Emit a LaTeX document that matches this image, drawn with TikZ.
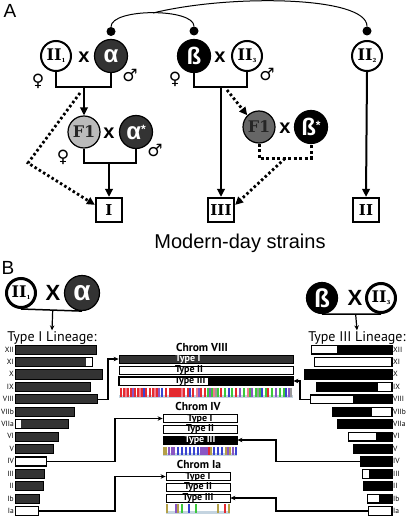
\documentclass[tikz,border=0pt]{standalone}
\usepackage{fontspec}
\setsansfont{Liberation Sans}
\newfontfamily\ptsans{PT Sans}
\newfontfamily\symfont{DejaVu Sans}
\newfontfamily\slab{DejaVu Serif}
\usetikzlibrary{arrows.meta,positioning}
\definecolor{darkfill}{HTML}{333333}
\definecolor{fonelight}{HTML}{BBBBBB}
\definecolor{fonedark}{HTML}{666666}
\definecolor{stripred}{HTML}{E42A30}
\definecolor{strippink}{HTML}{F07C8C}
\definecolor{stripblue}{HTML}{3A44D0}
\definecolor{strippurple}{HTML}{8A56C4}
\definecolor{stripgreen}{HTML}{3CC83C}
\definecolor{stripolive}{HTML}{B4A048}
\definecolor{stripgray}{HTML}{9A9A9A}
\definecolor{stripbase}{HTML}{C4D4E0}

\begin{document}
\begin{tikzpicture}[x=1pt, y=-1pt,
    wcirc/.style={circle, draw, line width=2pt, fill=white, minimum size=30pt, inner sep=0pt, font=\fontsize{16}{16}\selectfont\slab\bfseries},
    dcirc/.style={circle, draw, line width=1.2pt, fill=#1, minimum size=33pt, inner sep=0pt, text=white, font=\fontsize{24}{24}\selectfont\sffamily\bfseries},
    fcirc/.style={circle, draw, line width=1.2pt, fill=#1, minimum size=32pt, inner sep=0pt, text=black!85, font=\fontsize{16}{16}\selectfont\slab\bfseries},
    xmark/.style={inner sep=0pt, font=\fontsize{20}{20}\selectfont\sffamily\bfseries},
    sexsym/.style={inner sep=0pt, font=\fontsize{17}{17}\selectfont\symfont},
    strainbox/.style={draw, line width=2.2pt, fill=white, minimum width=26pt, minimum height=24pt, inner sep=0pt, font=\fontsize{15}{15}\selectfont\slab\bfseries},
    knob/.style={circle, fill, inner sep=0pt, minimum size=9pt},
    panel/.style={inner sep=0pt, font=\fontsize{19}{19}\selectfont\sffamily},
    cline/.style={line width=2pt},
    carrow/.style={line width=2pt, -{Triangle[length=8pt, width=7.5pt]}},
    dline/.style={line width=3pt, dash pattern=on 3pt off 2.5pt},
    darrow/.style={line width=2.8pt, dash pattern=on 2.5pt off 2.5pt, -{Triangle[length=8pt, width=7.5pt]}},
    bwcirc/.style={wcirc, line width=3pt, minimum size=29pt},
    lineage/.style={inner sep=1pt, font=\fontsize{14}{14}\selectfont\ptsans},
    chrbar/.style={draw, line width=0.6pt, fill=white, minimum height=8.5pt, inner sep=0pt},
    rowlab/.style={inner sep=1pt, font=\fontsize{7.5}{7.5}\selectfont\ptsans},
    typebar/.style={draw, line width=0.8pt, fill=white, minimum height=8pt, inner sep=0pt},
    typelab/.style={inner sep=0pt, font=\fontsize{10}{10}\selectfont\ptsans\bfseries},
    chrtitle/.style={inner sep=0pt, font=\fontsize{11.5}{11.5}\selectfont\ptsans\bfseries},
    barrow/.style={line width=1.2pt, -{Stealth[length=5pt, width=4.5pt]}},
    stripe/.style={line width=1.2pt}
]

\path[use as bounding box, fill=white] (0,0) rectangle (410,516);

% Panel A
\node[panel] (lblA) at (10,11) {A};

% Ancestral crosses
\node[wcirc] (ii1) at (56,56) {II\raisebox{-2pt}{\fontsize{5.5}{6}\selectfont 1}};
\node[xmark] (xa1) at (84,57) {x};
\node[dcirc=darkfill] (alpha) at (111,56) {α};
\node[dcirc=black] (beta) at (194,56) {ß};
\node[xmark] (xb1) at (220,57) {x};
\node[wcirc] (ii3) at (247,56) {II\raisebox{-2pt}{\fontsize{5.5}{6}\selectfont 3}};
\node[wcirc] (ii2) at (367,56) {II\raisebox{-2pt}{\fontsize{5.5}{6}\selectfont 2}};

% Knobs and ancestry arcs
\node[knob] (ka) at (111,31.5) {};
\node[knob] (kb) at (194,31) {};
\node[knob] (kc) at (367,31) {};
\draw[line width=1pt] (ka.north) .. controls (111,8) and (194,8) .. (kb.north);
\coordinate (jtop) at (153,13);
\draw[line width=1pt] (jtop) .. controls (230,-6) and (367,-4) .. (kc.north);

% Sexes
\node[sexsym] (fem1) at (38,81) {♀};
\node[sexsym] (mal1) at (130,75) {♂};
\node[sexsym] (fem2) at (175,79) {♀};
\node[sexsym] (mal2) at (267,74) {♂};
\node[sexsym] (fem3) at (63,157) {♀};
\node[sexsym] (mal3) at (155,150) {♂};

% Second generation
\node[fcirc=fonelight] (f1a) at (84,132) {F1};
\node[xmark] (xa2) at (109,133) {x};
\node[dcirc=darkfill] (alphas) at (136,132) {α\raisebox{6pt}{\fontsize{12}{12}\selectfont*}};
\node[fcirc=fonedark] (f1b) at (259,127) {F1};
\node[xmark] (xb2) at (285,128) {x};
\node[dcirc=black] (betas) at (311,127) {ß\raisebox{6pt}{\fontsize{12}{12}\selectfont*}};

% Modern-day strains
\node[strainbox] (sI) at (109,210) {I};
\node[strainbox] (sIII) at (221,210) {III};
\node[strainbox] (sII) at (366,210) {II};
\node[font=\fontsize{20}{20}\selectfont\sffamily] (modern) at (240,243) {Modern-day strains};

% Descent
\coordinate (ja1) at (84,87);
\draw[cline] (ii1.south) |- (ja1) -| (alpha.south);
\draw[carrow] (ja1) -- (f1a.north);
\coordinate (ja2) at (109,163);
\draw[cline] (f1a.south) |- (ja2) -| (alphas.south);
\draw[carrow] (ja2) -- (sI.north);
\coordinate (da1) at (80,93);
\coordinate (da2) at (28,163);
\draw[darrow] (da1) -- (da2) -- (sI.160);

\coordinate (jb1) at (221,87);
\draw[cline] (beta.south) |- (jb1) -| (ii3.south);
\draw[carrow] (jb1) -- (sIII.north);
\coordinate (db1) at (227,90);
\draw[darrow] (db1) -- (f1b.135);
\coordinate (jb2) at (285,158.5);
\draw[dline] (f1b.south) |- (jb2) -| (betas.south);
\draw[darrow] (jb2) -- (sIII.20);

\draw[carrow] (ii2.south) -- (sII.north);

% Panel B
\node[panel] (lblB) at (8,268) {B};

\node[bwcirc] (bii1) at (21,293) {II\raisebox{-2pt}{\fontsize{5.5}{6}\selectfont 1}};
\node[xmark, font=\fontsize{22}{22}\selectfont\sffamily\bfseries] (bx1) at (53,293) {X};
\node[dcirc=darkfill, minimum size=35pt, font=\fontsize{28}{28}\selectfont\sffamily\bfseries] (balpha) at (82,293) {α};
\draw[line width=1.5pt] (bii1.south) -- (balpha.south) coordinate[pos=0.52] (jl);
\node[lineage] (linI) at (52,338) {Type I Lineage:};
\draw[barrow] (jl) -- (linI.north);

\node[dcirc=black, minimum size=31pt, font=\fontsize{26}{26}\selectfont\sffamily\bfseries] (bbeta) at (322,298) {ß};
\node[xmark, font=\fontsize{22}{22}\selectfont\sffamily\bfseries] (bx2) at (355,298) {X};
\node[bwcirc] (bii3) at (381,298) {II\raisebox{-2pt}{\fontsize{5.5}{6}\selectfont 3}};
\draw[line width=1.5pt] (bbeta.south) -- (bii3.south) coordinate[pos=0.57] (jr);
\node[lineage] (linIII) at (357,338) {Type III Lineage:};
\draw[barrow] (jr) -- (linIII.north);

% Type I lineage chromosomes
\foreach \n/\y/\xe/\da/\db in {XII/349.5/96/15/96, XI/361.9/92/15/86, X/374.3/102/15/102, IX/386.8/90/15/90, VIII/399.2/97/15/97, VIIb/411.6/74/15/74, VIIa/424.0/68/21/68, VI/436.4/58/15/58, V/448.9/53/15/53, IV/461.3/46/15/15, III/473.7/44/15/44, II/486.1/43/15/43, Ib/498.5/39/15/39, Ia/511.0/38/15/15}{
  \pgfmathsetmacro{\w}{\xe-15}
  \node[chrbar, anchor=west, minimum width=\w pt] (L\n) at (15,\y) {};
  \fill[darkfill] (\da,\y-4.25) rectangle (\db,\y+4.25);
  \draw[line width=0.6pt] (L\n.south west) rectangle (L\n.north east);
  \node[rowlab, anchor=east] (lb\n) at (L\n.west) {\n};
}

% Type III lineage chromosomes
\foreach \n/\y/\xs/\da/\db in {XII/349.5/312/337/392, XI/361.9/315/392/392, X/374.3/305/305/392, IX/386.8/317/317/378, VIII/399.2/311/353/392, VIIb/411.6/333/333/372, VIIa/424.0/338/338/392, VI/436.4/349/376/392, V/448.9/354/354/392, IV/461.3/361/361/392, III/473.7/363/369/392, II/486.1/364/364/392, Ib/498.5/368/379/392, Ia/511.0/369/392/392}{
  \pgfmathsetmacro{\w}{392-\xs}
  \node[chrbar, anchor=east, minimum width=\w pt] (R\n) at (392,\y) {};
  \fill[black] (\da,\y-4.25) rectangle (\db,\y+4.25);
  \draw[line width=0.6pt] (R\n.south west) rectangle (R\n.north east);
  \node[rowlab, anchor=west] (rb\n) at (R\n.east) {\n};
}

% Chrom VIII
\node[chrtitle] (c8) at (202,347) {Chrom VIII};
\node[typebar, fill=darkfill, minimum width=174pt] (c8a) at (206,359) {};
\node[typebar, minimum width=174pt] (c8b) at (206,370) {};
\node[typebar, minimum width=174pt] (c8c) at (206,381) {};
\fill[black] (208,377) rectangle (293,385);
\draw[line width=0.8pt] (c8c.south west) rectangle (c8c.north east);
\node[typelab, text=white] (c8at) at (188,359) {Type I};
\node[typelab] (c8bt) at (189,370) {Type II};
\node[typelab] (c8ct) at (190,381) {Type III};
\fill[stripbase] (119,395) rectangle (293,397.5);
\foreach \x in {121,124,128,131,135,138,142,146,150,153,157,166,170,172,174,176,178,180,184,188,193,201,205,221,236,268}
  \draw[stripe, stripred] (\x,388) -- (\x,397);
\foreach \x in {126,140,155,182,197,214,248}
  \draw[stripe, strippink] (\x,388) -- (\x,397);
\foreach \x in {144,162,190,229,262,286}
  \draw[stripe, stripblue] (\x,388) -- (\x,397);
\foreach \x in {133,159,199,210,240,252,276,289}
  \draw[stripe, strippurple] (\x,388) -- (\x,397);
\foreach \x in {208,212,218,225,232,244,250,256,260,266,272,280,284}
  \draw[stripe, stripgreen] (\x,388) -- (\x,397);
\foreach \x in {216,258,291}
  \draw[stripe, stripgray] (\x,388) -- (\x,397);

% Chrom IV
\node[chrtitle] (c4) at (198,406) {Chrom IV};
\node[typebar, minimum width=74pt] (c4a) at (200,418.5) {};
\node[typebar, minimum width=74pt] (c4b) at (200,429) {};
\node[typebar, fill=black, minimum width=74pt] (c4c) at (200,440) {};
\node[typelab] (c4at) at (200,419) {Type I};
\node[typelab] (c4bt) at (200,429) {Type II};
\node[typelab, text=white] (c4ct) at (200,440) {Type III};
\fill[stripbase] (163,453) rectangle (237,455.5);
\foreach \x in {164,166,211,226,230}
  \draw[stripe, stripolive] (\x,447) -- (\x,455);
\foreach \x in {169,172,174,201,203,205,207,228,233}
  \draw[stripe, strippurple] (\x,447) -- (\x,455);
\foreach \x in {178,182,186,190,194,198,214,218,222,236}
  \draw[stripe, stripblue] (\x,447) -- (\x,455);
\draw[stripe, stripred] (209,447) -- (209,455);

% Chrom Ia
\node[chrtitle] (c1) at (199,464) {Chrom Ia};
\node[typebar, minimum width=64pt] (c1a) at (198,476.5) {};
\node[typebar, minimum width=64pt] (c1b) at (198,487.5) {};
\node[typebar, minimum width=64pt] (c1c) at (198,498) {};
\node[typelab] (c1at) at (198,477) {Type I};
\node[typelab] (c1bt) at (198,487.5) {Type II};
\node[typelab] (c1ct) at (198,498) {Type III};
\fill[stripbase] (166,511) rectangle (230,513.5);
\foreach \x in {167,178,218,229}
  \draw[stripe, stripolive] (\x,504) -- (\x,513);
\draw[stripe, strippurple] (176,504) -- (176,513);
\foreach \x in {182,196}
  \draw[stripe, stripgreen] (\x,504) -- (\x,513);
\draw[stripe, stripblue] (189,504) -- (189,513);
\draw[stripe, stripred] (225,504) -- (225,513);

% Lineage to chromosome links
\coordinate (kl8) at (108,359);
\draw[barrow] (LVIII.east) -| (kl8) -- (c8a.west);
\coordinate (kl4) at (115,418.5);
\draw[barrow] (LIV.east) -| (kl4) -- (c4a.west);
\coordinate (kl1) at (115,476.5);
\draw[barrow] (LIa.east) -| (kl1) -- (c1a.west);

\coordinate (kr8) at (300,381);
\draw[barrow] (RVIII.west) -| (kr8) -- (c8c.east);
\coordinate (kr4) at (276,440);
\draw[barrow] (RIV.west) -| (kr4) -- (c4c.east);
\coordinate (kr1) at (276,498);
\draw[barrow] (RIa.west) -| (kr1) -- (c1c.east);

\end{tikzpicture}
\end{document}
